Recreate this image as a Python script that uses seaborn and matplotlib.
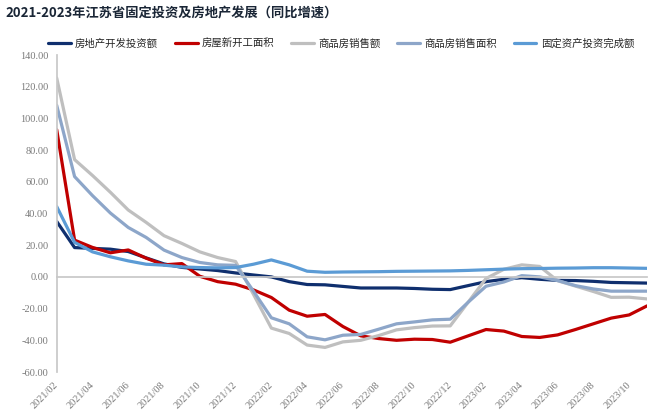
import numpy as np
import pandas as pd
import matplotlib
matplotlib.use("Agg")
import matplotlib.pyplot as plt
import seaborn as sns

# 月份 2021/02 - 2023/11
months = pd.period_range("2021-02", "2023-11", freq="M").strftime("%Y/%m").tolist()

series_names = ["房地产开发投资额", "房屋新开工面积", "商品房销售额", "商品房销售面积", "固定资产投资完成额"]

invest_re = [35.0, 18.5, 18.0, 17.5, 16.0, 12.0, 8.2, 6.0, 5.0, 4.0, 2.5, 1.2,
             0.0, -3.0, -4.8, -5.0, -6.0, -7.0, -7.0, -7.0, -7.3, -7.8, -8.0, -5.5,
             -3.0, -1.5, -0.5, -1.5, -2.2, -2.3, -2.8, -3.5, -3.7, -3.9]
new_start = [92.9, 23.2, 18.6, 15.2, 17.0, 11.8, 7.6, 8.4, 0.4, -3.0, -4.6, -8.2,
             -13.0, -21.0, -24.8, -23.7, -31.3, -37.2, -38.9, -40.0, -39.3, -39.5, -41.2, -37.2,
             -33.2, -34.2, -37.6, -38.2, -36.6, -33.2, -29.6, -26.0, -24.0, -18.3]
sales_amt = [125.5, 74.0, 64.0, 53.4, 42.2, 34.4, 26.0, 21.1, 15.8, 12.2, 9.7, -11.0,
             -32.3, -35.7, -43.0, -44.5, -41.0, -40.0, -37.0, -33.4, -32.0, -31.0, -30.9, -16.0,
             -1.0, 4.8, 7.6, 6.6, -2.4, -5.8, -9.2, -12.9, -12.8, -13.9]
sales_area = [108.3, 63.3, 51.3, 40.3, 31.2, 24.9, 16.9, 12.2, 9.1, 7.6, 7.3, -9.0,
              -25.8, -29.6, -37.8, -39.7, -36.8, -36.3, -33.0, -29.6, -28.4, -27.1, -26.7, -16.0,
              -5.9, -3.2, 0.8, 0.0, -2.3, -5.5, -7.6, -9.0, -9.0, -9.0]
fixed_inv = [44.4, 21.8, 15.8, 12.7, 10.1, 8.0, 7.4, 6.3, 5.9, 5.7, 5.9, 8.0,
             10.7, 7.6, 3.6, 2.9, 3.1, 3.2, 3.3, 3.5, 3.6, 3.7, 3.8, 4.1,
             4.5, 4.9, 5.2, 5.3, 5.5, 5.6, 5.8, 5.8, 5.6, 5.4]

colors = ["#0f2f6e", "#c00000", "#bfbfbf", "#8da6c9", "#5b9bd5"]

df = pd.DataFrame({
    "idx": np.tile(np.arange(len(months)), len(series_names)),
    "value": invest_re + new_start + sales_amt + sales_area + fixed_inv,
    "series": np.repeat(series_names, len(months)),
})

sns.set_theme(style="white")
plt.rcParams["font.family"] = ["Noto Sans CJK SC", "DejaVu Sans"]

fig = plt.figure(figsize=(6.6, 4.11), dpi=100)
ax = fig.add_axes([56.7 / 660, 1 - 372 / 411, (647 - 56.7) / 660, (372 - 55) / 411])

sns.lineplot(data=df, x="idx", y="value", hue="series", hue_order=series_names,
             palette=dict(zip(series_names, colors)), linewidth=2.3, legend=False,
             ax=ax, sort=False)

# 横轴放在 0 处（先设置，否则会重置刻度标签）
for side in ["top", "right"]:
    ax.spines[side].set_visible(False)
ax.spines["bottom"].set_position(("data", 0))
ax.spines["bottom"].set_color("#c8c8c8")
ax.spines["left"].set_color("#c8c8c8")

ax.set_xlim(0, len(months) - 1)
ax.set_ylim(-60, 140)
ax.set_yticks(np.arange(-60, 141, 20))
ax.set_yticklabels([f"{v:.2f}" for v in np.arange(-60, 141, 20)],
                   family="Liberation Serif", fontsize=7.5, color="#7a7a7a")
ax.set_xticks(np.arange(0, len(months), 2))
ax.set_xticklabels(months[::2], rotation=45, ha="right", va="center",
                   rotation_mode="anchor", family="Liberation Serif",
                   fontsize=7.5, color="#7a7a7a")
ax.set_xlabel("")
ax.set_ylabel("")
ax.tick_params(axis="x", direction="out", length=3, width=0.8, color="#c8c8c8", pad=74)
ax.tick_params(axis="y", direction="out", length=3, width=0.8, color="#c8c8c8", pad=3)

ax.legend(handles=ax.lines[:5], labels=series_names, ncol=5, frameon=False,
          loc="center left", bbox_to_anchor=(48 / 660, 1 - 44 / 411),
          bbox_transform=fig.transFigure, fontsize=7.5, handlelength=2.2,
          handletextpad=0.4, columnspacing=1.6, borderpad=0, borderaxespad=0)
for h in ax.get_legend().get_lines():
    h.set_linewidth(2.3)

fig.text(5 / 660, 1 - 13 / 411, "2021-2023年江苏省固定投资及房地产发展（同比增速）",
         fontsize=9.5, fontweight="bold", color="#1a2636", ha="left", va="center")

fig.savefig("out.png", dpi=100)
